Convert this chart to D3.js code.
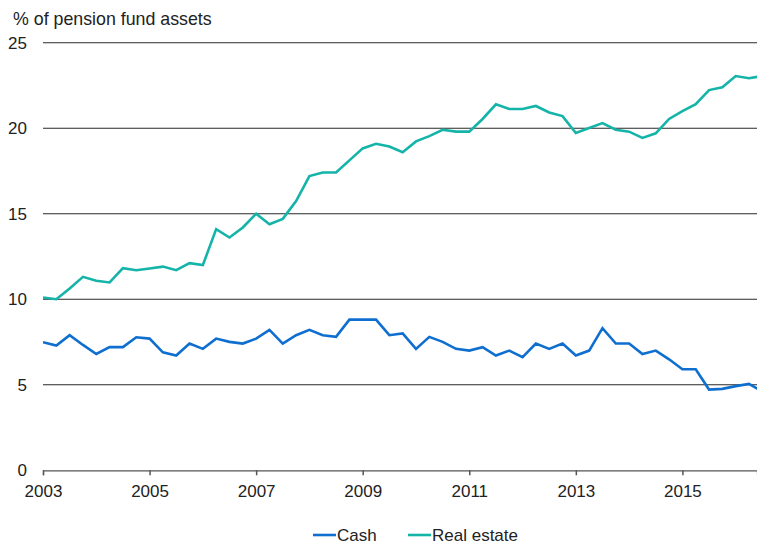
<!DOCTYPE html>
<html>
<head>
<meta charset="utf-8">
<script src="https://cdn.jsdelivr.net/npm/d3@7"></script>
<style>
  html, body { margin: 0; padding: 0; background: #fff; }
  svg { display: block; font-family: "Liberation Sans", Arial, sans-serif; }
</style>
</head>
<body>
<svg id="chart" width="757" height="545"></svg>
<script>
// Quarterly observations starting 2003 Q1
const startYear = 2003;
const cash = [7.49, 7.29, 7.9, 7.33, 6.8, 7.2, 7.2, 7.78, 7.7, 6.9, 6.71, 7.41, 7.1, 7.7, 7.51, 7.41,
  7.7, 8.21, 7.41, 7.9, 8.21, 7.9, 7.8, 8.81, 8.81, 8.81, 7.9, 8.0, 7.1, 7.8, 7.51, 7.1,
  7.0, 7.2, 6.71, 7.0, 6.61, 7.41, 7.1, 7.41, 6.71, 7.0, 8.31, 7.41, 7.41, 6.8, 7.0, 6.49,
  5.91, 5.91, 4.72, 4.76, 4.92, 5.05, 4.6];
const realEstate = [10.1, 10.0, 10.63, 11.31, 11.08, 10.98, 11.82, 11.7, 11.8, 11.91, 11.7, 12.11, 12.0, 14.1, 13.61, 14.2,
  15.0, 14.39, 14.7, 15.74, 17.2, 17.41, 17.41, 18.12, 18.82, 19.09, 18.93, 18.6, 19.23, 19.54, 19.91, 19.8,
  19.8, 20.54, 21.4, 21.12, 21.12, 21.3, 20.92, 20.71, 19.72, 20.01, 20.3, 19.91, 19.8, 19.43, 19.7, 20.54,
  21.0, 21.41, 22.23, 22.39, 23.05, 22.92, 23.05];
const seriesNames = ["Cash", "Real estate"];
const seriesColors = ["#0f6fd0", "#14b4a9"];
const yTicks = [0, 5, 10, 15, 20, 25];
const xTicks = [2003, 2005, 2007, 2009, 2011, 2013, 2015];
const yTitle = "% of pension fund assets";

const svg = d3.select("#chart");
const x = d3.scaleLinear().domain([2003, 2016.4]).range([43, 757]);
const y = d3.scaleLinear().domain([0, 25]).range([470.3, 42.7]);

// gridlines
svg.append("g").selectAll("line").data(yTicks.filter(d => d > 0)).join("line")
  .attr("x1", x.range()[0]).attr("x2", x.range()[1])
  .attr("y1", d => y(d)).attr("y2", d => y(d))
  .attr("stroke", "#2a2a2a").attr("stroke-width", 1.1);

// y labels
svg.append("g").selectAll("text").data(yTicks).join("text")
  .attr("x", 27).attr("y", d => y(d)).attr("dy", "0.35em")
  .attr("text-anchor", "end").attr("font-size", 17).attr("fill", "#222")
  .text(d => d);

// title
svg.append("text").attr("x", 13).attr("y", 25).attr("font-size", 17.8).attr("fill", "#222").text(yTitle);

// x axis
const xAxis = d3.axisBottom(x).tickValues(xTicks).tickFormat(d3.format("d")).tickSize(5).tickPadding(10);
const gx = svg.append("g").attr("transform", `translate(0,${y(0)})`).call(xAxis);
gx.select(".domain").attr("stroke", "#555").attr("stroke-width", 1.2);
gx.selectAll(".tick line").attr("stroke", "#555").attr("stroke-width", 1.5);
gx.selectAll(".tick text").attr("font-size", 17).attr("fill", "#222")
  .attr("font-family", "Liberation Sans, Arial, sans-serif");

// clip
svg.append("clipPath").attr("id", "plotclip").append("rect")
  .attr("x", 43).attr("y", 0).attr("width", 757 - 43).attr("height", 545);

const line = d3.line().x((d, i) => x(startYear + i / 4)).y(d => y(d));
const plot = svg.append("g").attr("clip-path", "url(#plotclip)");
[cash, realEstate].forEach((s, k) => {
  plot.append("path").datum(s).attr("d", line)
    .attr("fill", "none").attr("stroke", seriesColors[k]).attr("stroke-width", 2.6)
    .attr("stroke-linejoin", "miter");
});

// legend
const legendItems = [{x: 313, name: seriesNames[0], c: seriesColors[0]}, {x: 408, name: seriesNames[1], c: seriesColors[1]}];
const lg = svg.append("g");
legendItems.forEach(it => {
  lg.append("line").attr("x1", it.x).attr("x2", it.x + 23).attr("y1", 535).attr("y2", 535)
    .attr("stroke", it.c).attr("stroke-width", 2.6);
  lg.append("text").attr("x", it.x + 24).attr("y", 535).attr("dy", "0.35em")
    .attr("font-size", 17).attr("fill", "#222").text(it.name);
});
</script>
</body>
</html>
